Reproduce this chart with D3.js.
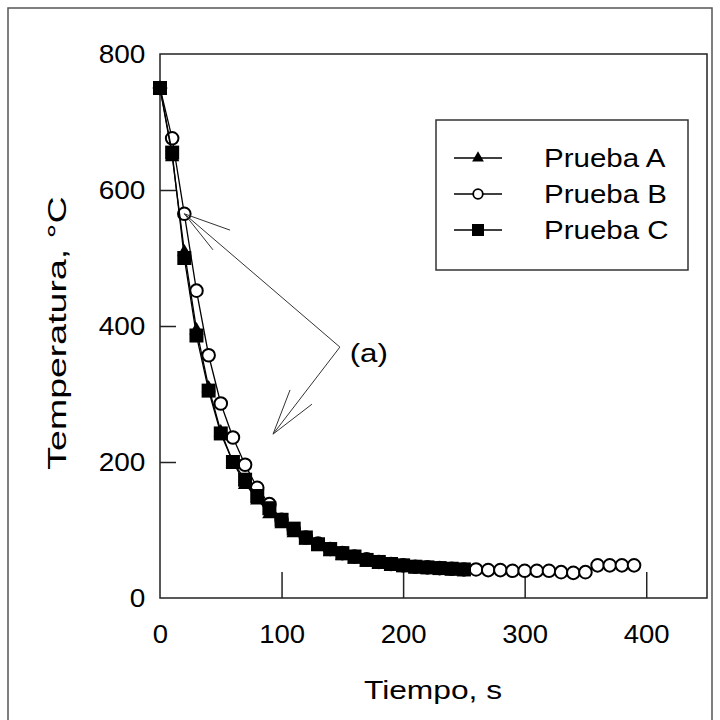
<!DOCTYPE html>
<html>
<head>
<meta charset="utf-8">
<script src="https://cdn.jsdelivr.net/npm/d3@7"></script>
<style>
  body { margin: 0; background: #fff; }
  text { font-family: 'Liberation Sans', Arial, sans-serif; fill: #000; }
</style>
</head>
<body>
<div id="root"></div>
<script>
// Data ////////////////////////////////////////////////////////////////
const timeA = [0, 10, 20, 30, 40, 50, 60, 70, 80, 90, 100, 110, 120, 130, 140, 150, 160, 170, 180, 190, 200, 210, 220, 230, 240, 250];
const tempA = [750, 650, 510, 395, 310, 245, 200, 168, 145, 125, 110, 97, 86, 77, 69, 63, 58, 54, 51, 48, 46, 44, 43, 42, 41, 40];

const timeB = [0, 10, 20, 30, 40, 50, 60, 70, 80, 90, 100, 110, 120, 130, 140, 150, 160, 170, 180, 190, 200, 210, 220, 230, 240, 250,
  260, 270, 280, 290, 300, 310, 320, 330, 340, 350, 360, 370, 380, 390];
const tempB = [750, 676, 565, 452, 357, 286, 236, 196, 162, 138, 115, 101, 89, 80, 72, 66, 61, 57, 53, 50, 48, 46, 45, 44, 43, 42,
  42, 41, 41, 40, 40, 40, 40, 38, 37, 38, 48, 48, 48, 48];

const timeC = [0, 10, 20, 30, 40, 50, 60, 70, 80, 90, 100, 110, 120, 130, 140, 150, 160, 170, 180, 190, 200, 210, 220, 230, 240, 250];
const tempC = [750, 655, 500, 386, 305, 242, 200, 174, 150, 132, 115, 102, 89, 79, 72, 66, 61, 56, 53, 50, 48, 46, 45, 44, 43, 42];

const seriesNames = ['Prueba A', 'Prueba B', 'Prueba C'];
const xTicks = [0, 100, 200, 300, 400];
const yTicks = [0, 200, 400, 600, 800];

// annotation "(a)": arrow tips, arrow heads and the joint, in data units
const arrowTip1 = [20, 565];
const arrowHead1 = [[57.6, 541], [43.6, 512]];
const arrowJoint = [148, 369];
const arrowTip2 = [93, 241];
const arrowHead2 = [[107, 306], [125, 285]];
const noteLabel = '(a)';
const notePos = [156, 347];

// Chart ///////////////////////////////////////////////////////////////
const width = 720;
const height = 720;
const fontSize = 25;

const svg = d3.select('#root').append('svg').attr('width', width).attr('height', height);

// outer frame
svg.append('rect')
  .attr('x', 8).attr('y', 8).attr('width', 704).attr('height', 730)
  .attr('fill', 'none').attr('stroke', '#555').attr('stroke-width', 1.5);

const xScale = d3.scaleLinear().domain([0, 450]).range([160, 707]);
const yScale = d3.scaleLinear().domain([0, 800]).range([598, 54]);

// the original's font is a wide one, so text is stretched sideways a bit
function wideText(parent, x, y, sx, str, rotate) {
  const rot = rotate ? ` rotate(${rotate})` : '';
  return parent.append('text')
    .attr('transform', `translate(${x}, ${y})${rot} scale(${sx}, 1)`)
    .attr('font-size', fontSize)
    .text(str);
}

// plot box
svg.append('rect')
  .attr('x', xScale(0)).attr('y', yScale(800))
  .attr('width', xScale(450) - xScale(0)).attr('height', yScale(0) - yScale(800))
  .attr('fill', 'none').attr('stroke', '#222').attr('stroke-width', 1.5);

// X axis (ticks inward)
const xAxis = d3.axisBottom(xScale).tickValues(xTicks).tickSize(-26).tickPadding(36).tickFormat(d3.format('d'));
const xAxisGroup = svg.append('g').attr('transform', `translate(0, ${yScale(0)})`).call(xAxis);
xAxisGroup.select('.domain').remove();
xAxisGroup.selectAll('.tick line').attr('stroke', '#222').attr('stroke-width', 1.5)
  .style('display', (d) => (d === 0 ? 'none' : null));
xAxisGroup.selectAll('.tick text').attr('font-size', fontSize).attr('font-family', null)
  .attr('dy', '0.35em').attr('transform', 'scale(1.1, 1)');

// Y axis (ticks inward)
const yAxis = d3.axisLeft(yScale).tickValues(yTicks).tickSize(-16).tickPadding(13).tickFormat(d3.format('d'));
const yAxisGroup = svg.append('g').attr('transform', `translate(${xScale(0)}, 0)`).call(yAxis);
yAxisGroup.select('.domain').remove();
yAxisGroup.selectAll('.tick line').attr('stroke', '#222').attr('stroke-width', 1.5)
  .style('display', (d) => (d === 0 || d === 800 ? 'none' : null));
yAxisGroup.selectAll('.tick text').attr('font-size', fontSize).attr('font-family', null)
  .attr('transform', 'scale(1.12, 1)');

// axis titles
wideText(svg, 433, 699, 1.27, 'Tiempo, s').attr('text-anchor', 'middle');
wideText(svg, 66, 333, 1.5, 'Temperatura, \u00B0C', -90).attr('text-anchor', 'middle');

// Series //////////////////////////////////////////////////////////////
const line = d3.line().x((d) => xScale(d[0])).y((d) => yScale(d[1]));

const ptsA = timeA.map((t, i) => [t, tempA[i]]);
const ptsB = timeB.map((t, i) => [t, tempB[i]]);
const ptsC = timeC.map((t, i) => [t, tempC[i]]);

const graph = svg.append('g').attr('id', 'graph');

function drawLine(pts) {
  graph.append('path').datum(pts)
    .attr('d', line).attr('fill', 'none').attr('stroke', '#000').attr('stroke-width', 1.3);
}

const triangle = d3.symbol().type(d3.symbolTriangle).size(90);

// B: open circles
drawLine(ptsB);
graph.selectAll('.ptB').data(ptsB).enter().append('circle')
  .attr('class', 'ptB')
  .attr('cx', (d) => xScale(d[0])).attr('cy', (d) => yScale(d[1]))
  .attr('r', 6.3).attr('fill', '#fff').attr('stroke', '#000').attr('stroke-width', 2);

// A: filled triangles
drawLine(ptsA);
graph.selectAll('.ptA').data(ptsA).enter().append('path')
  .attr('class', 'ptA')
  .attr('d', triangle)
  .attr('transform', (d) => `translate(${xScale(d[0])}, ${yScale(d[1]) + 1})`)
  .attr('fill', '#000');

// C: filled squares
drawLine(ptsC);
graph.selectAll('.ptC').data(ptsC).enter().append('rect')
  .attr('class', 'ptC')
  .attr('x', (d) => xScale(d[0]) - 7).attr('y', (d) => yScale(d[1]) - 7)
  .attr('width', 14).attr('height', 14).attr('fill', '#000');

// Annotation //////////////////////////////////////////////////////////
const px = (p) => [xScale(p[0]), yScale(p[1])];
const note = svg.append('g').attr('stroke', '#333').attr('stroke-width', 1).attr('fill', 'none');
const segs = [
  [arrowTip1, arrowJoint], [arrowJoint, arrowTip2],
  [arrowTip1, arrowHead1[0]], [arrowTip1, arrowHead1[1]],
  [arrowTip2, arrowHead2[0]], [arrowTip2, arrowHead2[1]],
];
segs.forEach(([a, b]) => {
  const [x1, y1] = px(a);
  const [x2, y2] = px(b);
  note.append('line').attr('x1', x1).attr('y1', y1).attr('x2', x2).attr('y2', y2);
});
wideText(svg, xScale(notePos[0]), yScale(notePos[1]), 1.25, noteLabel);

// Legend //////////////////////////////////////////////////////////////
const legend = svg.append('g').attr('transform', 'translate(436, 120)');
legend.append('rect')
  .attr('width', 252).attr('height', 150)
  .attr('fill', '#fff').attr('stroke', '#333').attr('stroke-width', 1.5);

const rowY = [38, 74, 110];
seriesNames.forEach((name, i) => {
  const row = legend.append('g').attr('transform', `translate(0, ${rowY[i]})`);
  row.append('line').attr('x1', 18).attr('x2', 66).attr('y1', 0).attr('y2', 0)
    .attr('stroke', '#000').attr('stroke-width', 1.3);
  if (i === 0) {
    row.append('path').attr('d', d3.symbol().type(d3.symbolTriangle).size(60)).attr('transform', 'translate(42, 0)').attr('fill', '#000');
  } else if (i === 1) {
    row.append('circle').attr('cx', 42).attr('cy', 0).attr('r', 4.8)
      .attr('fill', '#fff').attr('stroke', '#000').attr('stroke-width', 1.8);
  } else {
    row.append('rect').attr('x', 36).attr('y', -6).attr('width', 12).attr('height', 12).attr('fill', '#000');
  }
  wideText(row, 108, 0, 1.18, name).attr('dy', '0.35em');
});
</script>
</body>
</html>
